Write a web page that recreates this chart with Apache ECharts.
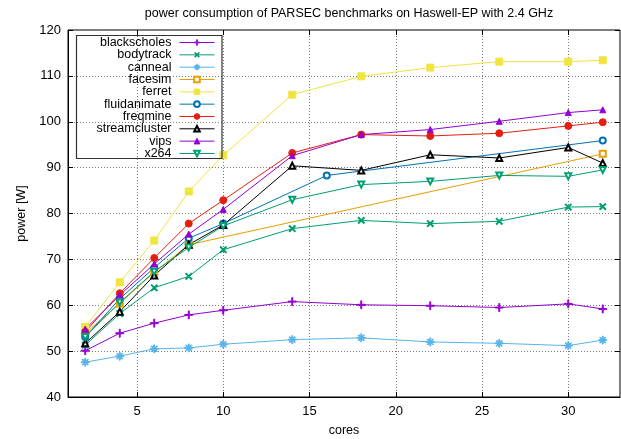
<!DOCTYPE html>
<html>
<head>
<meta charset="utf-8">
<script src="https://cdn.jsdelivr.net/npm/echarts@6/dist/echarts.min.js"></script>
<style>
  html, body { margin: 0; padding: 0; background: #fff; }
  #chart { width: 621px; height: 439px; }
</style>
</head>
<body>
<div id="chart"></div>
<script>
// Measured package power (W) against the number of active cores.
const cores = [2, 4, 6, 8, 10, 14, 18, 22, 26, 30, 32];
const facesimCores = [2, 4, 6, 8, 32];
const fluidanimateCores = [2, 4, 6, 8, 10, 16, 32];

const blackscholes = [50.1, 53.9, 56.1, 57.9, 58.9, 60.8, 60.1, 59.9, 59.5, 60.3, 59.2];
const bodytrack = [51.3, 58.2, 63.8, 66.3, 72.1, 76.7, 78.5, 77.8, 78.3, 81.4, 81.5];
const canneal = [47.6, 48.9, 50.5, 50.7, 51.5, 52.5, 52.9, 52.0, 51.7, 51.2, 52.4];
const facesim = [53.9, 60.4, 67.2, 73.2, 93.0];
const ferret = [55.3, 65.0, 74.1, 84.8, 92.7, 105.9, 109.9, 111.8, 113.1, 113.1, 113.4];
const fluidanimate = [53.1, 61.4, 68.2, 74.6, 77.8, 88.3, 95.9];
const freqmine = [54.2, 62.6, 70.3, 77.8, 82.9, 93.2, 97.2, 96.9, 97.5, 99.1, 99.9];
const streamcluster = [51.7, 58.6, 66.5, 73.2, 77.5, 90.4, 89.4, 92.8, 92.1, 94.4, 91.0];
const vips = [54.8, 62.2, 69.0, 75.5, 80.9, 92.6, 97.2, 98.3, 100.1, 102.0, 102.6];
const x264 = [53.1, 60.6, 67.3, 72.6, 77.3, 83.0, 86.3, 87.0, 88.3, 88.1, 89.5];

const xTicks = [5, 10, 15, 20, 25, 30];
const yTicks = [40, 50, 60, 70, 80, 90, 100, 110, 120];

const FONT = '"Liberation Sans", Arial, Helvetica, sans-serif';

// Point symbols in the classic plotting style
const PLUS = 'path://M0,4.4H10V5.6H0Z M4.4,0H5.6V10H4.4Z';
const STAR = 'path://M0,4.4H10V5.6H0Z M4.4,0H5.6V10H4.4Z ' +
             'M1.1,1.9L1.9,1.1L8.9,8.1L8.1,8.9Z M8.1,1.1L8.9,1.9L1.9,8.9L1.1,8.1Z';

const benchmarks = [
  { name: 'blackscholes',  x: cores,             y: blackscholes,  color: '#9400d3', symbol: PLUS,            size: 8 },
  { name: 'bodytrack',     x: cores,             y: bodytrack,     color: '#009e73', symbol: PLUS,            size: 8, rotate: 45 },
  { name: 'canneal',       x: cores,             y: canneal,       color: '#56b4e9', symbol: STAR,            size: 8 },
  { name: 'facesim',       x: facesimCores,      y: facesim,       color: '#e69f00', symbol: 'emptyRect',     size: 6 },
  { name: 'ferret',        x: cores,             y: ferret,        color: '#f0e442', symbol: 'rect',          size: 7 },
  { name: 'fluidanimate',  x: fluidanimateCores, y: fluidanimate,  color: '#0072b2', symbol: 'emptyCircle',   size: 6 },
  { name: 'freqmine',      x: cores,             y: freqmine,      color: '#e51e10', symbol: 'circle',        size: 7 },
  { name: 'streamcluster', x: cores,             y: streamcluster, color: '#000000', symbol: 'emptyTriangle', size: 6 },
  { name: 'vips',          x: cores,             y: vips,          color: '#9400d3', symbol: 'triangle',      size: 6 },
  { name: 'x264',          x: cores,             y: x264,          color: '#009e73', symbol: 'emptyTriangle', size: 6, rotate: 180 }
];

const series = benchmarks.map(b => ({
  name: b.name,
  type: 'line',
  xAxisIndex: 0,
  yAxisIndex: 0,
  data: b.x.map((c, i) => [c, b.y[i]]),
  symbol: b.symbol,
  symbolSize: b.size,
  symbolRotate: b.rotate || 0,
  showAllSymbol: true,
  animation: false,
  lineStyle: { color: b.color, width: 1 },
  itemStyle: { color: b.color, borderColor: b.color, borderWidth: 1 },
  emphasis: { disabled: true }
}));

// One legend block per entry so the labels end on a common right edge
const legendRight = 621 - 215;
const legends = benchmarks.map((b, i) => ({
  data: [b.name],
  orient: 'vertical',
  align: 'right',
  right: legendRight,
  top: 42 + i * 12.33 - 6,
  padding: 0,
  itemGap: 0,
  itemWidth: 35,
  itemHeight: 7,
  selectedMode: false,
  lineStyle: { width: 1 },
  itemStyle: { borderWidth: 1 },
  textStyle: { fontFamily: FONT, fontSize: 12.5, color: '#000', lineHeight: 13, padding: [0, 3, 0, 0] }
}));

const gridDots = { show: true, lineStyle: { color: '#7a7a7a', type: [1, 2], width: 1 } };

const option = {
  animation: false,
  backgroundColor: '#fff',
  title: {
    text: 'power consumption of PARSEC benchmarks on Haswell-EP with 2.4 GHz',
    left: 344,
    textAlign: 'center',
    top: 2,
    textStyle: { fontFamily: FONT, fontSize: 12.5, fontWeight: 'normal', color: '#000' }
  },
  legend: legends,
  grid: {
    left: 68, right: 1, top: 30, bottom: 42,
    outerBoundsMode: 'none',
    containLabel: false,
    show: true, borderColor: '#000', borderWidth: 1
  },
  xAxis: [{
    type: 'value', min: 1, max: 33, minInterval: 5, maxInterval: 5,
    position: 'bottom',
    name: 'cores', nameLocation: 'middle', nameGap: 27,
    nameTextStyle: { fontFamily: FONT, fontSize: 12.5, color: '#000' },
    axisLine: { show: true, lineStyle: { color: '#000' } },
    axisTick: { show: true, inside: true, length: 5, lineStyle: { color: '#000' },
      customValues: xTicks },
    axisLabel: { fontFamily: FONT, fontSize: 13, color: '#000', margin: 8,
      customValues: xTicks },
    splitLine: gridDots
  }, {
    type: 'value', min: 1, max: 33, minInterval: 5, maxInterval: 5,
    position: 'top',
    axisLine: { show: false },
    axisTick: { show: true, inside: true, length: 5, lineStyle: { color: '#000' },
      customValues: xTicks },
    axisLabel: { show: false },
    splitLine: { show: false }
  }],
  yAxis: [{
    type: 'value', min: 40, max: 120, interval: 10,
    position: 'left',
    name: 'power [W]', nameLocation: 'middle', nameGap: 37, nameRotate: 90,
    nameTextStyle: { fontFamily: FONT, fontSize: 12.5, color: '#000' },
    axisLine: { show: true, lineStyle: { color: '#000' } },
    axisTick: { show: true, inside: true, length: 5, lineStyle: { color: '#000' } },
    axisLabel: { fontFamily: FONT, fontSize: 13, color: '#000', margin: 7,
      customValues: yTicks },
    splitLine: gridDots
  }, {
    type: 'value', min: 40, max: 120, interval: 10,
    position: 'right',
    axisLine: { show: false },
    axisTick: { show: true, inside: true, length: 5, lineStyle: { color: '#000' } },
    axisLabel: { show: false },
    splitLine: { show: false }
  }],
  graphic: [{
    type: 'rect',
    shape: { x: 76.5, y: 35.5, width: 145.5, height: 123 },
    style: { fill: 'none', stroke: '#333', lineWidth: 1.2 },
    z: 5
  }],
  series: series
};

const chart = echarts.init(document.getElementById('chart'), null, { renderer: 'canvas' });
chart.setOption(option);
</script>
</body>
</html>
